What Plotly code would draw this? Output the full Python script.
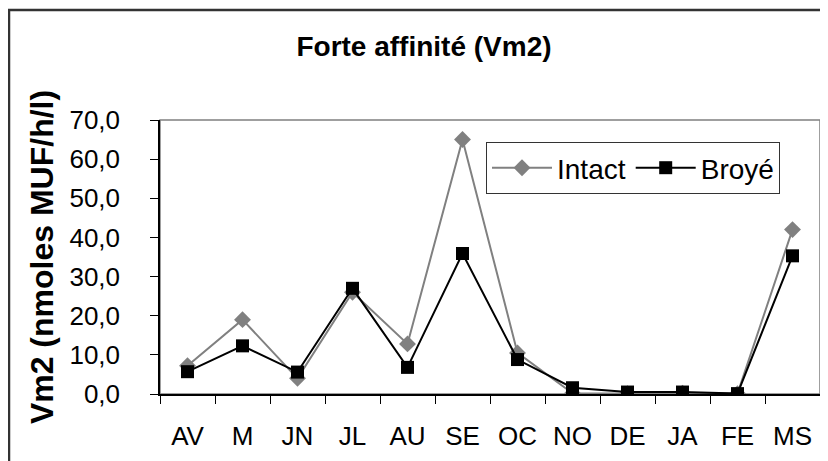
import plotly.graph_objects as go

months = ["AV", "M", "JN", "JL", "AU", "SE", "OC", "NO", "DE", "JA", "FE", "MS"]
intact = [7.2, 19.0, 4.0, 26.0, 12.8, 65.0, 10.5, 0.2, 0.1, 0.2, 0.1, 42.0]
broye = [5.7, 12.3, 5.6, 27.0, 6.8, 35.9, 8.8, 1.6, 0.5, 0.5, 0.1, 35.3]
y_ticks = [0, 10, 20, 30, 40, 50, 60, 70]

FONT = "Liberation Sans, Arial, sans-serif"

# page body has an 8px margin: plot area sits at screen (160..820, 120..394)
ML, MT, MR, MB = 152, 112, 16, 75
PW = 828 - ML - MR
PH = 461 - MT - MB


def px_x(x):
    return (x - 8 - ML) / PW


def px_y(y):
    return (461 - MB - (y - 8)) / PH


fig = go.Figure()
fig.add_trace(go.Scatter(
    x=months, y=intact, name="Intact", mode="lines+markers",
    line=dict(color="#808080", width=2),
    marker=dict(symbol="diamond", size=13, color="#808080"),
))
fig.add_trace(go.Scatter(
    x=months, y=broye, name="Broyé", mode="lines+markers",
    line=dict(color="#000000", width=2),
    marker=dict(symbol="square", size=13, color="#000000"),
))

fig.update_layout(
    width=828, height=461,
    margin=dict(l=ML, r=MR, t=MT, b=MB),
    paper_bgcolor="white", plot_bgcolor="white",
    separators=", ",
    font=dict(family=FONT, color="black", size=26),
    title=dict(text="<b>Forte affinité (Vm2)</b>", x=416 / 828, xanchor="center",
               y=1 - 38 / 461, yanchor="middle", font=dict(size=28, family=FONT)),
    showlegend=True,
    legend=dict(orientation="h", x=px_x(486), y=px_y(142), xanchor="left", yanchor="top",
                bordercolor="#333333", borderwidth=1, bgcolor="white",
                font=dict(size=28, family=FONT), itemwidth=60,
                tracegroupgap=0),
    xaxis=dict(
        type="category", categoryorder="array", categoryarray=months,
        range=[-0.5, 11.5], showline=True, linecolor="#000000", linewidth=1.5,
        ticks="outside", ticklen=8, tickcolor="#000000", tickwidth=1,
        tickson="boundaries", showgrid=False, zeroline=False,
        ticklabelstandoff=18, tickfont=dict(size=26),
    ),
    yaxis=dict(
        range=[0, 70], tickvals=y_ticks, tickformat=".1f",
        showline=True, linecolor="#000000", linewidth=1.5,
        ticks="outside", ticklen=8, tickcolor="#000000", tickwidth=1,
        showgrid=False, zeroline=False, ticklabelstandoff=25,
        tickfont=dict(size=26),
        title=dict(text="<b>Vm2 (nmoles MUF/h/l)</b>", font=dict(size=32), standoff=6),
    ),
    shapes=[
        dict(type="rect", xref="paper", yref="paper", x0=0, x1=1, y0=0, y1=1,
             line=dict(color="#808080", width=1.5), layer="below"),
        dict(type="rect", xref="paper", yref="paper",
             x0=px_x(9), x1=px_x(850),
             y0=px_y(490), y1=px_y(10),
             line=dict(color="#333333", width=2.5), layer="below"),
    ],
)

fig.write_html("out.html")
